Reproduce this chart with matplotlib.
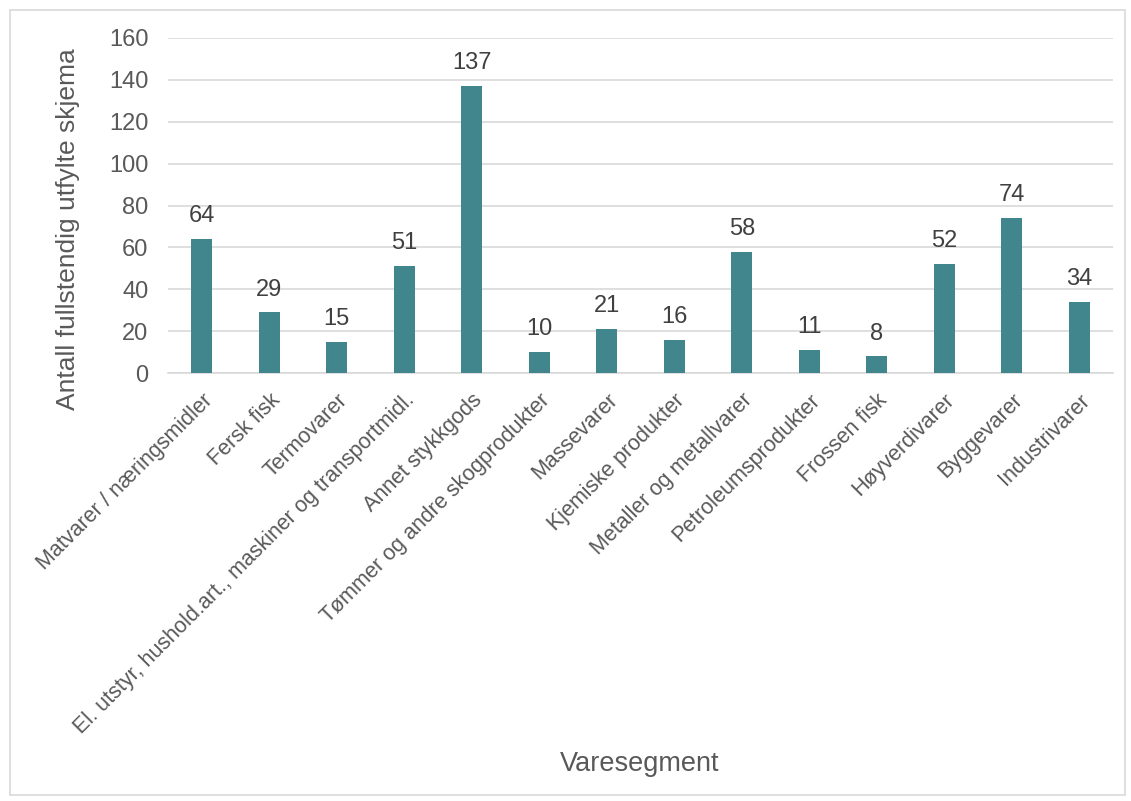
import matplotlib
matplotlib.use("Agg")
import matplotlib.pyplot as plt
from matplotlib.patches import Rectangle

plt.rcParams['font.family'] = ['Liberation Sans', 'DejaVu Sans']

categories = ["Matvarer / næringsmidler", "Fersk fisk", "Termovarer",
              "El. utstyr, hushold.art., maskiner og transportmidl.",
              "Annet stykkgods", "Tømmer og andre skogprodukter", "Massevarer",
              "Kjemiske produkter", "Metaller og metallvarer", "Petroleumsprodukter",
              "Frossen fisk", "Høyverdivarer", "Byggevarer", "Industrivarer"]
values = [64, 29, 15, 51, 137, 10, 21, 16, 58, 11, 8, 52, 74, 34]
yticks = [0, 20, 40, 60, 80, 100, 120, 140, 160]

fig = plt.figure(figsize=(11.31, 8.01), dpi=100)
fig.patches.append(Rectangle((10/1131, 6/801), 1115/1131, 785/801, transform=fig.transFigure,
                             fill=False, edgecolor='#D9D9D9', linewidth=1.2))
ax = fig.add_axes([168/1131, 1-373/801, (1113-168)/1131, (373-38)/801])

x = list(range(len(categories)))
bars = ax.bar(x, values, width=0.31, color='#41868C', zorder=3)
for xi, v in zip(x, values):
    ax.text(xi, v + 8, str(v), ha='center', va='baseline', fontsize=17, color='#404040')

ax.set_xlim(-0.5, len(categories) - 0.5)
ax.set_ylim(0, 160)
ax.set_yticks(yticks)
ax.set_yticklabels([str(t) for t in yticks], fontsize=17, color='#595959')
ax.yaxis.grid(True, color='#D9D9D9', linewidth=1.2, zorder=0)
ax.set_axisbelow(True)
for s in ['top', 'right', 'left']:
    ax.spines[s].set_visible(False)
ax.spines['bottom'].set_color('#D9D9D9')
ax.spines['bottom'].set_linewidth(1.2)
ax.tick_params(axis='both', length=0)
ax.tick_params(axis='y', pad=14)
ax.set_xticks(x)
ax.set_xticklabels(categories, rotation=45, ha='right', rotation_mode='anchor',
                   fontsize=15.5, color='#595959')
ax.tick_params(axis='x', pad=12)
fig.text(68/1131, 1-229/801, "Antall fullstendig utfylte skjema", rotation=90,
         ha='center', va='center', fontsize=19, color='#595959')
fig.text(640/1131, 1-764/801, "Varesegment", ha='center', va='center', fontsize=19.5, color='#595959')

fig.savefig("out.png", dpi=100)
